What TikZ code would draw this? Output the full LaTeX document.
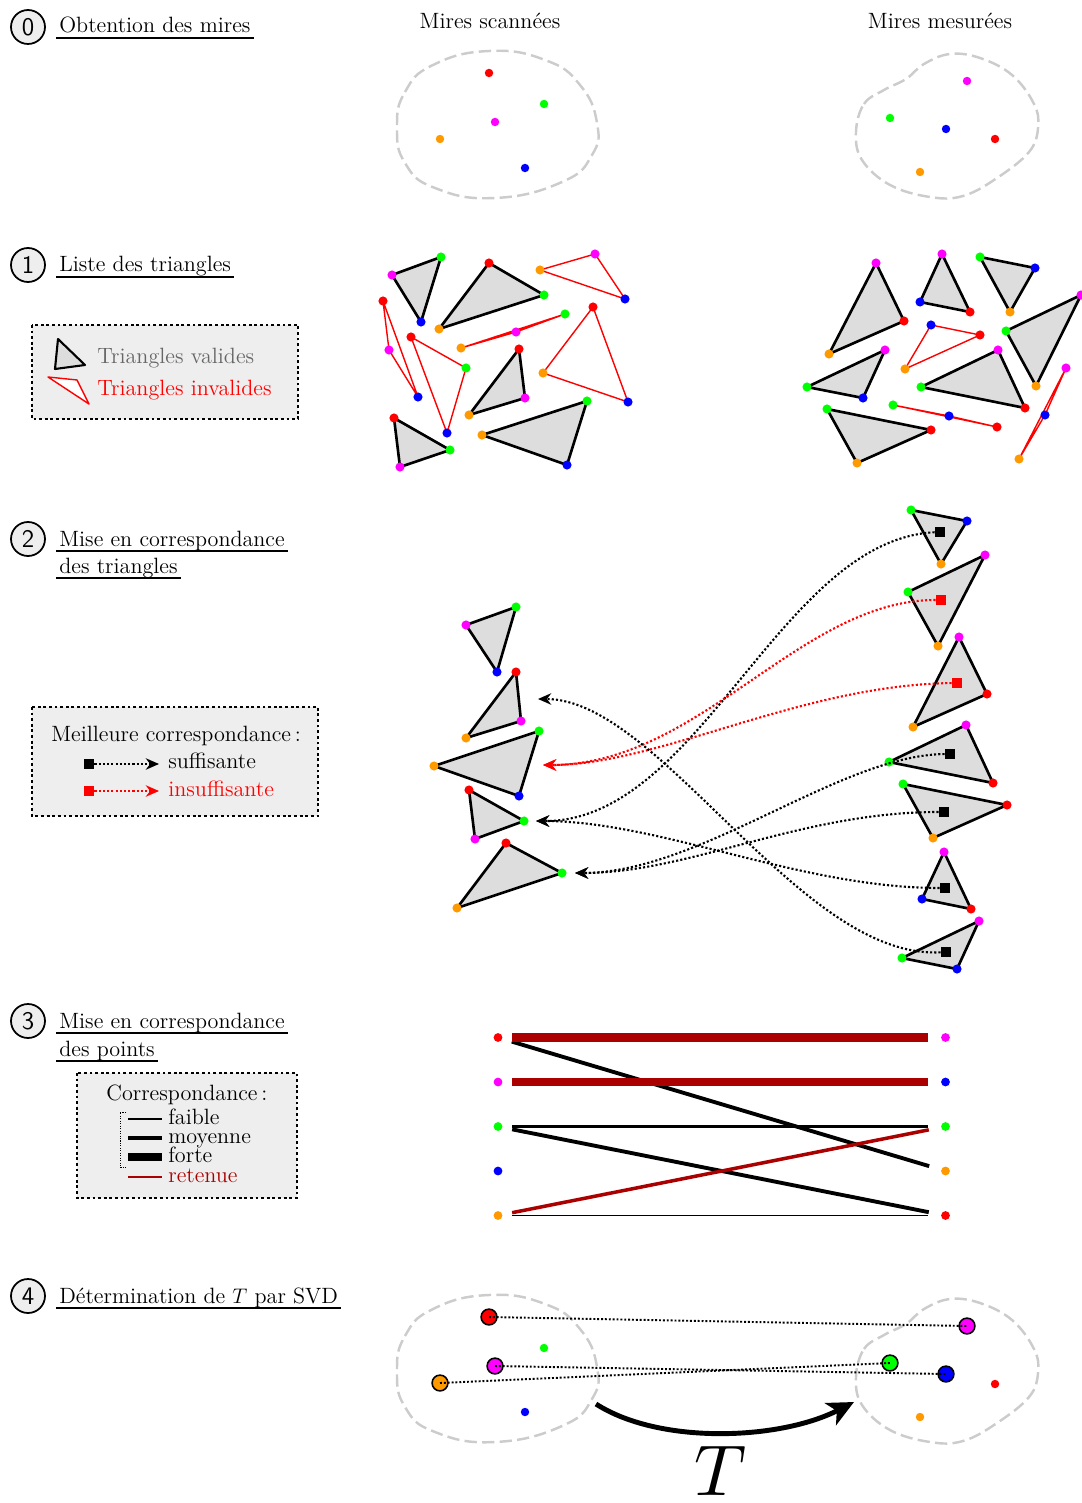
\documentclass[tikz,border=0pt]{standalone}
\usepackage{tikz}
\usetikzlibrary{arrows.meta}

\definecolor{ptorange}{HTML}{FF9900}
\definecolor{ptmag}{HTML}{FF00FF}
\definecolor{ptgreen}{HTML}{00FF00}
\definecolor{ptblue}{HTML}{0000FF}
\definecolor{ptred}{HTML}{FF0000}
\definecolor{dred}{HTML}{AA0000}
\definecolor{trigray}{HTML}{DDDDDD}
\definecolor{boxgray}{HTML}{EEEEEE}
\definecolor{blobgray}{HTML}{CCCCCC}
\newcommand{\txt}{\fontsize{12.6}{14}\selectfont}

\newcommand{\tri}[7][valid]{%
  \path[#1] #2 -- #4 -- #6 -- cycle;
  \fill[#3] #2 circle (2.6pt);
  \fill[#5] #4 circle (2.6pt);
  \fill[#7] #6 circle (2.6pt);
}
\newcommand{\blobL}{\draw[blob] plot[smooth cycle,tension=0.8] coordinates
  {(397,127) (405,92) (433,65) (489,51) (545,60) (580,85) (597,123) (592,155) (562,182) (495,198) (435,188) (405,163)};}
\newcommand{\blobR}{\draw[blob] plot[smooth cycle,tension=0.65] coordinates
  {(856,132) (864,104) (884,90) (906,79) (924,64) (950,54) (980,58) (1012,75) (1034,104) (1038,128) (1029,152) (997,178) (963,196) (930,197) (890,185) (862,160)};}

\begin{document}
\begin{tikzpicture}[x=0.02cm,y=-0.02cm,
  num/.style={circle,draw,line width=1pt,fill=boxgray,minimum size=0.68cm,inner sep=0pt,font=\sffamily\Large},
  title/.style={anchor=base west,inner xsep=1.7pt,inner ysep=0pt,font=\txt},
  lbl/.style={anchor=base west,inner sep=0pt,font=\txt},
  uline/.style={line width=1.1pt},
  blob/.style={draw=blobgray,line width=1.4pt,dash pattern=on 7pt off 3pt},
  valid/.style={draw=black,fill=trigray,line width=1.5pt,line join=round},
  invalid/.style={draw=ptred,line width=0.8pt,line join=round},
  legbox/.style={draw,fill=boxgray,line width=1.6pt,dash pattern=on 1.6pt off 1.6pt},
  sq/.style={fill=#1,minimum size=5.8pt,inner sep=0pt},
  sq/.default=black,
  link/.style={line width=1.2pt,dash pattern=on 1.2pt off 1.2pt,-{Stealth[length=7.5pt,width=6.5pt]}},
  dot/.style={circle,fill=#1,minimum size=5pt,inner sep=0pt},
  bigpt/.style={circle,draw,line width=0.9pt,fill=#1,minimum size=9pt,inner sep=0pt},
  faible/.style={line width=1pt},
  moyenne/.style={line width=2.2pt},
  forte/.style={line width=4.6pt},
  match/.style={shorten <=5.5pt,shorten >=7pt},
  corr/.style={line width=1.1pt,dash pattern=on 1.1pt off 1.1pt}]
  \useasboundingbox (0,0) rectangle (1081,1503);

  \node[num] (n0) at (28,27) {0};
  \node[title] (t0) at (56,33) {Obtention des mires};
  \draw[uline] ([yshift=-2.8pt]t0.base west) -- ([yshift=-2.8pt]t0.base east);
  \node[anchor=base,font=\txt] (hscan) at (490,29) {Mires scannées};
  \node[anchor=base,font=\txt] (hmes) at (940,29) {Mires mesurées};
  \blobL
  \blobR
  \foreach \p/\c in {(489,73)/ptred,(544,104)/ptgreen,(495,122)/ptmag,(440,139)/ptorange,(525,168)/ptblue,
    (967,81)/ptmag,(890,118)/ptgreen,(946,129)/ptblue,(995,139)/ptred,(920,172)/ptorange}
    \fill[\c] \p circle (2.4pt);

  \node[num] (n1) at (28,265) {1};
  \node[title] (t1) at (56,272) {Liste des triangles};
  \draw[uline] ([yshift=-2.8pt]t1.base west) -- ([yshift=-2.8pt]t1.base east);
  \draw[legbox] (32,325) rectangle (298,419);
  \draw[valid,line width=1.2pt] (58,339) -- (55,369) -- (85,365) -- cycle;
  \draw[invalid,fill=white] (48,377) -- (77,380) -- (89,404) -- cycle;
  \node[lbl,text=black!60] (lv) at (97,364) {Triangles valides};
  \node[lbl,text=ptred] (li) at (97,396) {Triangles invalides};

  \tri{(392,275)}{ptmag}{(441,257)}{ptgreen}{(421,322)}{ptblue}
  \tri{(489,263)}{ptred}{(544,295)}{ptgreen}{(439,329)}{ptorange}
  \tri{(519,349)}{ptred}{(525,398)}{ptmag}{(469,415)}{ptorange}
  \tri{(482,435)}{ptorange}{(587,401)}{ptgreen}{(567,465)}{ptblue}
  \tri{(394,418)}{ptred}{(450,450)}{ptgreen}{(400,467)}{ptmag}
  \tri[invalid]{(540,270)}{ptorange}{(595,254)}{ptmag}{(625,299)}{ptblue}
  \tri[invalid]{(383,301)}{ptred}{(389,350)}{ptmag}{(418,397)}{ptblue}
  \tri[invalid]{(411,337)}{ptred}{(466,368)}{ptgreen}{(447,433)}{ptblue}
  \tri[invalid]{(461,348)}{ptorange}{(516,332)}{ptmag}{(565,314)}{ptgreen}
  \tri[invalid]{(593,307)}{ptred}{(543,373)}{ptorange}{(628,402)}{ptblue}

  \tri{(876,263)}{ptmag}{(904,321)}{ptred}{(829,354)}{ptorange}
  \tri{(942,254)}{ptmag}{(920,302)}{ptblue}{(970,312)}{ptred}
  \tri{(980,257)}{ptgreen}{(1035,268)}{ptblue}{(1010,312)}{ptorange}
  \tri{(1081,295)}{ptmag}{(1006,331)}{ptgreen}{(1036,386)}{ptorange}
  \tri{(885,350)}{ptmag}{(807,387)}{ptgreen}{(863,398)}{ptblue}
  \tri{(998,350)}{ptmag}{(921,387)}{ptgreen}{(1025,408)}{ptred}
  \tri{(827,409)}{ptgreen}{(931,430)}{ptred}{(857,463)}{ptorange}
  \tri[invalid]{(931,325)}{ptblue}{(980,335)}{ptred}{(905,369)}{ptorange}
  \tri[invalid]{(893,405)}{ptgreen}{(949,416)}{ptblue}{(997,427)}{ptred}
  \tri[invalid]{(1066,368)}{ptmag}{(1045,415)}{ptblue}{(1019,459)}{ptorange}

  \node[num] (n2) at (28,539) {2};
  \node[title] (t2a) at (56,546) {Mise en correspondance};
  \node[title] (t2b) at (56,573) {des triangles};
  \draw[uline] ([yshift=-2.8pt]t2a.base west) -- ([yshift=-2.8pt]t2a.base east);
  \draw[uline] ([yshift=-2.8pt]t2b.base west) -- ([yshift=-2.8pt]t2b.base east);
  \draw[legbox] (32,707) rectangle (318,816);
  \node[lbl] (lm) at (51,741) {Meilleure correspondance\,:};
  \node[sq] (ls1) at (89,764) {};
  \coordinate (lt1) at (159,764);
  \draw[link] (ls1) -- (lt1);
  \node[lbl] (lsuf) at (168,768) {suffisante};
  \node[sq=ptred] (ls2) at (89,791) {};
  \coordinate (lt2) at (159,791);
  \draw[link,ptred] (ls2) -- (lt2);
  \node[lbl,text=ptred] (lins) at (168,796) {insuffisante};

  \tri{(466,625)}{ptmag}{(516,607)}{ptgreen}{(497,672)}{ptblue}
  \tri{(516,672)}{ptred}{(521,721)}{ptmag}{(466,738)}{ptorange}
  \tri{(434,766)}{ptorange}{(539,731)}{ptgreen}{(519,796)}{ptblue}
  \tri{(469,790)}{ptred}{(524,821)}{ptgreen}{(475,839)}{ptmag}
  \tri{(506,843)}{ptred}{(562,873)}{ptgreen}{(457,908)}{ptorange}

  \tri{(911,510)}{ptgreen}{(967,521)}{ptblue}{(941,564)}{ptorange}
  \tri{(985,555)}{ptmag}{(908,592)}{ptgreen}{(938,646)}{ptorange}
  \tri{(959,637)}{ptmag}{(987,694)}{ptred}{(913,727)}{ptorange}
  \tri{(966,725)}{ptmag}{(889,762)}{ptgreen}{(993,783)}{ptred}
  \tri{(903,784)}{ptgreen}{(1007,805)}{ptred}{(933,838)}{ptorange}
  \tri{(944,852)}{ptmag}{(922,899)}{ptblue}{(971,909)}{ptred}
  \tri{(979,921)}{ptmag}{(902,958)}{ptgreen}{(957,969)}{ptblue}

  \coordinate (a2) at (538,699);
  \coordinate (a3) at (543,765);
  \coordinate (a4) at (536,821);
  \coordinate (a5) at (575,873);
  \node[sq] (q1) at (940,532) {};
  \node[sq=ptred] (q2) at (941,600) {};
  \node[sq=ptred] (q3) at (957,683) {};
  \node[sq] (q4) at (950,754) {};
  \node[sq] (q5) at (944,812) {};
  \node[sq] (q6) at (945,888) {};
  \node[sq] (q7) at (946,952) {};
  \draw[link] (q1) .. controls (780,540) and (700,822) .. (a4);
  \draw[link,ptred] (q2) .. controls (800,600) and (700,765) .. (a3);
  \draw[link,ptred] (q3) .. controls (800,685) and (660,765) .. (a3);
  \draw[link] (q4) .. controls (840,755) and (700,873) .. (a5);
  \draw[link] (q5) .. controls (800,812) and (690,873) .. (a5);
  \draw[link] (q6) .. controls (800,888) and (660,821) .. (a4);
  \draw[link] (q7) .. controls (800,960) and (660,699) .. (a2);

  \node[num] (n3) at (28,1021) {3};
  \node[title] (t3a) at (56,1028) {Mise en correspondance};
  \node[title] (t3b) at (56,1056) {des points};
  \draw[uline] ([yshift=-2.8pt]t3a.base west) -- ([yshift=-2.8pt]t3a.base east);
  \draw[uline] ([yshift=-2.8pt]t3b.base west) -- ([yshift=-2.8pt]t3b.base east);
  \draw[legbox] (77,1073) rectangle (297,1198);
  \node[lbl] (lc) at (106,1100) {Correspondance\,:};
  \draw[line width=0.5pt,dash pattern=on 0.6pt off 0.8pt] (126,1112) -- (120,1112) -- (120,1167) -- (126,1167);
  \foreach \y/\s/\c/\t in {1119/faible/black/faible,1138/moyenne/black/moyenne,1157/forte/black/forte,1177/faible/dred/retenue}{
    \draw[\s,\c] (128,\y) -- (162,\y);
    \node[lbl,text=\c] at (168,\y+5) {\t};
  }

  \foreach \c [count=\i] in {ptred,ptmag,ptgreen,ptblue,ptorange}
    \node[dot=\c] (l\i) at (498,{1037.5+44.5*(\i-1)}) {};
  \foreach \c [count=\i] in {ptmag,ptblue,ptgreen,ptorange,ptred}
    \node[dot=\c] (r\i) at (945.5,{1037.5+44.5*(\i-1)}) {};
  \draw[match,moyenne] (l1) -- (r4);
  \draw[match,moyenne] (l3) -- (r3);
  \draw[match,moyenne] (l3) -- (r5);
  \draw[match,faible] (l5) -- (r5);
  \draw[match,forte,dred] (l1) -- (r1);
  \draw[match,forte,dred] (l2) -- (r2);
  \draw[match,moyenne,dred,line width=2pt] (l5) -- (r3);

  \node[num] (n4) at (28,1296) {4};
  \node[title] (t4) at (56,1303) {Détermination de $T$ par SVD};
  \draw[uline] ([yshift=-2.8pt]t4.base west) -- ([yshift=-2.8pt]t4.base east);
  \begin{scope}[shift={(0,1244)}]
    \blobL
    \fill[ptgreen] (544,104) circle (2.4pt);
    \fill[ptblue] (525,168) circle (2.4pt);
    \node[bigpt=ptred] (sr) at (489,73) {};
    \node[bigpt=ptmag] (sm) at (495,122) {};
    \node[bigpt=ptorange] (so) at (440,139) {};
  \end{scope}
  \begin{scope}[shift={(0,1245)}]
    \blobR
    \fill[ptred] (995,139) circle (2.4pt);
    \fill[ptorange] (920,172) circle (2.4pt);
    \node[bigpt=ptmag] (mm) at (967,81) {};
    \node[bigpt=ptgreen] (mg) at (890,118) {};
    \node[bigpt=ptblue] (mb) at (946,129) {};
  \end{scope}
  \draw[corr] (sr.center) -- (mm.center);
  \draw[corr] (sm.center) -- (mb.center);
  \draw[corr] (so.center) -- (mg.center);
  \coordinate (ts) at (596,1404);
  \coordinate (te) at (854,1402);
  \draw[line width=2.8pt,-{Stealth[length=15pt,width=14pt,inset=4pt]}] (ts) .. controls (660,1445) and (780,1440) .. (te);
  \node[scale=4.1,inner sep=0pt] (tt) at (721,1471) {$T$};
\end{tikzpicture}
\end{document}
